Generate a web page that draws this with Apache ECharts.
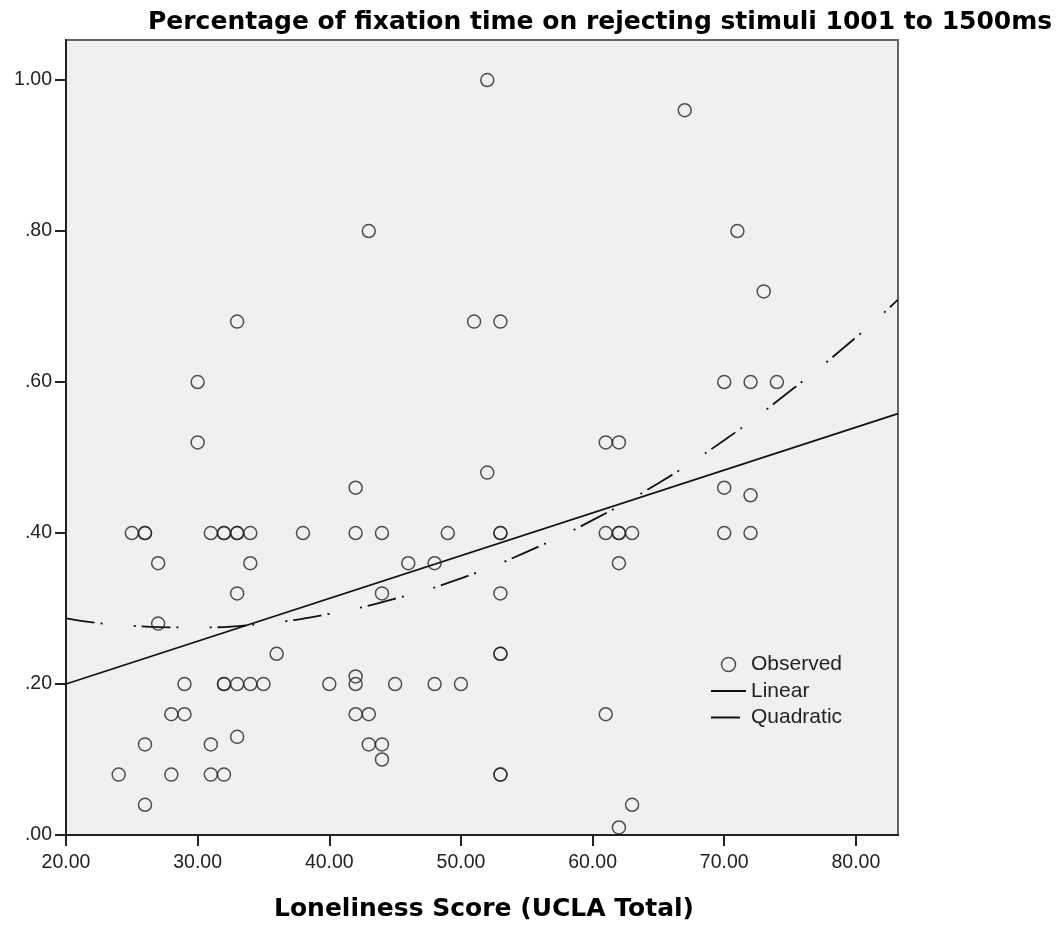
<!DOCTYPE html>
<html>
<head>
<meta charset="utf-8">
<script src="https://cdn.jsdelivr.net/npm/echarts@6/dist/echarts.min.js"></script>
<style>
html,body{margin:0;padding:0;background:#fff;}
#chart{width:1061px;height:926px;}
</style>
</head>
<body>
<div id="chart"></div>
<script>
// Observed points (Loneliness score, percentage of fixation time)
var obsX = [24,25,26,26,26,26,27,27,28,28,29,29,30,30,31,31,31,32,32,32,32,32,33,33,33,33,33,33,34,34,34,35,36,38,40,
            42,42,42,42,42,43,43,43,44,44,44,44,45,46,48,48,49,50,51,52,52,53,53,53,53,53,53,53,53,
            61,61,61,62,62,62,62,62,63,63,67,70,70,70,71,72,72,72,73,74];
var obsY = [0.08,0.40,0.40,0.12,0.04,0.40,0.36,0.28,0.16,0.08,0.20,0.16,0.60,0.52,0.40,0.12,0.08,0.40,0.40,0.20,0.20,0.08,0.68,0.40,0.40,0.32,0.20,0.13,0.40,0.36,0.20,0.20,0.24,0.40,0.20,
            0.46,0.40,0.21,0.20,0.16,0.80,0.16,0.12,0.40,0.32,0.12,0.10,0.20,0.36,0.36,0.20,0.40,0.20,0.68,1.00,0.48,0.68,0.40,0.40,0.32,0.24,0.24,0.08,0.08,
            0.52,0.40,0.16,0.52,0.40,0.36,0.01,0.40,0.40,0.04,0.96,0.60,0.46,0.40,0.80,0.60,0.45,0.40,0.72,0.60];

// Linear fit line
var linX = [20, 83.2];
var linY = [0.200, 0.558];

// Quadratic fit curve
var quadX = [20, 25, 30, 35, 40, 45, 50, 55, 60, 65, 70, 75, 80, 83.2];
var quadY = [0.287, 0.277, 0.275, 0.280, 0.293, 0.313, 0.340, 0.375, 0.417, 0.466, 0.523, 0.588, 0.659, 0.709];

// Axis ticks
var xTicks = [20, 30, 40, 50, 60, 70, 80];
var xTickLabels = ['20.00', '30.00', '40.00', '50.00', '60.00', '70.00', '80.00'];
var yTicks = [0, 0.2, 0.4, 0.6, 0.8, 1.0];
var yTickLabels = ['.00', '.20', '.40', '.60', '.80', '1.00'];

function zip(a, b) { return a.map(function (v, i) { return [v, b[i]]; }); }
function labelFor(ticks, labels) {
  return function (v) {
    for (var i = 0; i < ticks.length; i++) if (Math.abs(ticks[i] - v) < 1e-6) return labels[i];
    return '';
  };
}

var chart = echarts.init(document.getElementById('chart'), null, {renderer: 'canvas'});
var FONT = '"Liberation Sans", Arial, sans-serif';
var BOLD = '"DejaVu Sans", sans-serif';
chart.setOption({
  animation: false,
  backgroundColor: '#ffffff',
  title: [{
    text: 'Percentage of fixation time on rejecting stimuli 1001 to 1500ms',
    left: 148, top: 10, padding: 0,
    textStyle: {fontFamily: BOLD, fontSize: 25, fontWeight: 'bold', color: '#000'}
  }, {
    text: 'Loneliness Score (UCLA Total)',
    left: 484, top: 897, textAlign: 'center', padding: 0,
    textStyle: {fontFamily: BOLD, fontSize: 25, fontWeight: 'bold', color: '#000'}
  }],
  grid: {
    left: 66, right: 163, top: 40, bottom: 91,
    show: true, backgroundColor: '#f0f0f0', borderColor: '#666', borderWidth: 2,
    containLabel: false
  },
  legend: {
    left: 710, top: 654, orient: 'vertical', padding: 0,
    itemWidth: 35, itemHeight: 14, itemGap: 5.5,
    textStyle: {fontFamily: FONT, fontSize: 21, color: '#222'},
    data: [
      {name: 'Observed', icon: 'circle',
       itemStyle: {color: 'rgba(0,0,0,0)', borderColor: '#262626', borderWidth: 1.5}},
      {name: 'Linear', itemStyle: {opacity: 0}},
      {name: 'Quadratic', itemStyle: {opacity: 0}}
    ]
  },
  xAxis: {
    type: 'value', min: 20, max: 83.2,
    axisLine: {show: true, onZero: false, lineStyle: {color: '#222', width: 2}},
    axisTick: {show: true, length: 11, lineStyle: {color: '#222', width: 2}, customValues: xTicks},
    axisLabel: {customValues: xTicks, formatter: labelFor(xTicks, xTickLabels), margin: 18,
      fontFamily: FONT, fontSize: 19.5, color: '#222'},
    splitLine: {show: false}
  },
  yAxis: {
    type: 'value', min: 0, max: 1.053,
    axisLine: {show: true, onZero: false, lineStyle: {color: '#222', width: 2}},
    axisTick: {show: true, length: 11, lineStyle: {color: '#222', width: 2}, customValues: yTicks},
    axisLabel: {customValues: yTicks, formatter: labelFor(yTicks, yTickLabels), margin: 14,
      fontFamily: FONT, fontSize: 19.5, color: '#222', padding: [8, 0, 0, 0]},
    splitLine: {show: false}
  },
  series: [{
    name: 'Observed', type: 'scatter',
    symbol: 'circle', symbolSize: 13,
    itemStyle: {color: 'rgba(0,0,0,0)', borderColor: '#262626', borderWidth: 1.5},
    data: zip(obsX, obsY), z: 3
  }, {
    name: 'Linear', type: 'line', symbol: 'none',
    lineStyle: {color: '#111', width: 1.8, type: 'solid'},
    itemStyle: {color: '#111'},
    data: zip(linX, linY), z: 2
  }, {
    name: 'Quadratic', type: 'line', symbol: 'none', smooth: true,
    lineStyle: {color: '#111', width: 1.8, type: [29, 6, 2, 31, 2, 6]},
    itemStyle: {color: '#111'},
    data: zip(quadX, quadY), z: 2
  }]
});
</script>
</body>
</html>
